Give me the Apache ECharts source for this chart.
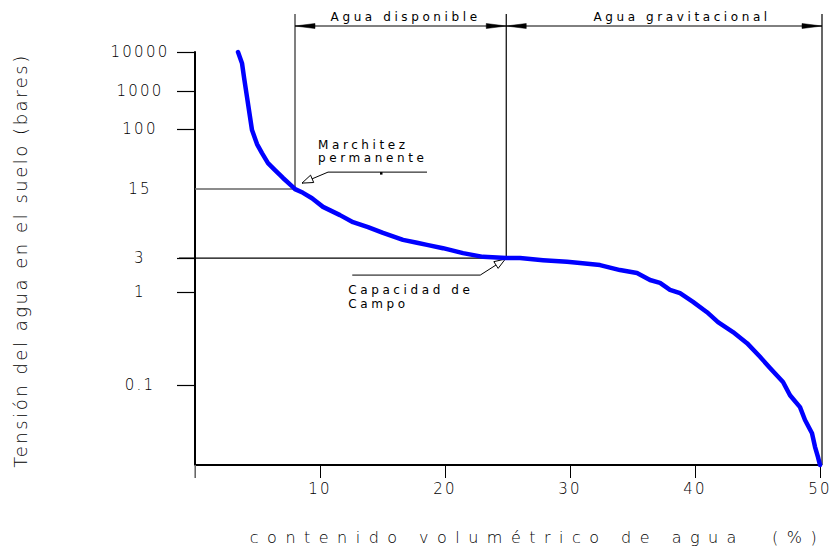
<!DOCTYPE html>
<html><head><meta charset="utf-8">
<script src="https://cdn.jsdelivr.net/npm/echarts@6/dist/echarts.min.js"></script>
<style>
html,body{margin:0;padding:0;background:#fff;}
#main{width:837px;height:547px;}
#main text{letter-spacing:0.3em;white-space:pre;}
#main text[style*="15px"]{letter-spacing:0.15em;}
#main text[style*="16px"]{letter-spacing:0.53em;}
#main text[style*="18px"]{letter-spacing:0.14em;}
</style></head><body><div id="main"></div>
<script>
// Y axis is a drawn (non-proportional) tension scale: positions 0..100 along the axis
const tickLabels    = ['10000', '1000', '100', '15', '3', '1', '0.1'];
const tickPositions = [100, 90.6, 81.3, 66.8, 50.1, 41.8, 19.4];
const tickMarks     = [100, 90.6, 81.3, 50.1, 41.8, 19.4];
const xTicks = [0, 10, 20, 30, 40, 50];

// Retention curve: water content (%) and position on the tension scale
const curveX   = [3.44,3.76,3.92,4.16,4.4,4.56,4.96,5.36,5.84,6.4,7.04,7.84,8.0,8.64,9.36,10.24,11.6,12.64,13.84,15.04,16.64,17.76,18.56,19.84,21.44,23.04,24.9,26.0,27.84,29.76,30.8,32.4,34.0,35.36,36.4,37.2,38.0,38.8,39.84,40.96,41.84,43.04,44.16,45.2,46.0,47.04,47.6,48.4,48.8,49.36,49.6,49.84,50.0];
const curvePos = [100,97.3,93.9,89.1,84.3,81.1,77.7,75.5,73.1,71.4,69.5,67.3,66.8,65.9,64.6,62.5,60.5,58.8,57.6,56.2,54.5,53.8,53.3,52.5,51.3,50.4,50.1,50.1,49.6,49.2,48.9,48.4,47.2,46.5,44.8,44.1,42.4,41.6,39.5,37.0,34.6,32.2,29.5,26.2,23.5,20.1,16.9,14.0,10.9,7.7,4.4,1.9,0];

// Key points
const pmpX = 8.0;   // punto de marchitez permanente (15 bares)
const ccX = 24.9;   // capacidad de campo (3)
const satX = 50;
const zoneNames = ['Agua disponible', 'Agua gravitacional'];
const pmpText = ['Marchitez', 'permanente'];
const ccText = ['Capacidad de', 'Campo'];
const xTitle = 'contenido volumétrico de agua  (%)';
const yTitle = 'Tensión del agua en el suelo (bares)';

const FONT = 'DejaVu Sans';
const chart = echarts.init(document.getElementById('main'), null, {renderer: 'svg'});
const curveData = curveX.map((x, i) => [x, curvePos[i]]);

const option = {
  animation: false,
  backgroundColor: '#fff',
  grid: {left: 195, right: 17, top: 52, bottom: 82, outerBoundsMode: 'none'},
  xAxis: {
    type: 'value', min: 0, max: 50, interval: 10,
    axisLine: {show: true, lineStyle: {color: '#000', width: 2}},
    axisTick: {show: true, length: 13, lineStyle: {color: '#000', width: 1}},
    axisLabel: {fontSize: 15, fontFamily: FONT, fontWeight: 200, color: '#000', margin: 16,
      formatter: v => (v === 0 ? '' : String(v))},
    splitLine: {show: false}
  },
  yAxis: {
    type: 'value', min: 0, max: 100,
    axisLine: {show: true, lineStyle: {color: '#000', width: 2}},
    axisTick: {show: true, length: 18, customValues: tickMarks, lineStyle: {color: '#000', width: 1.2}},
    axisLabel: {show: true, customValues: tickPositions, fontSize: 15, fontFamily: FONT, fontWeight: 200,
      color: '#000', margin: 55, align: 'center',
      formatter: v => { const i = tickPositions.indexOf(v); return i >= 0 ? tickLabels[i] : ''; }},
    splitLine: {show: false}
  },
  series: [{
    type: 'line', data: curveData, showSymbol: false, silent: true, clip: false, z: 5,
    lineStyle: {color: '#0000ff', width: 4.5, cap: 'round', join: 'round'}
  }]
};
chart.setOption(option);

const px = (x, y) => chart.convertToPixel({gridIndex: 0}, [x, y]);
const p0 = px(0, 0);
const pEnd = px(satX, 0);
const p15 = px(pmpX, tickPositions[3]);
const p3 = px(ccX, tickPositions[4]);
const topY = 14, dimY = 26;
const rightX = pEnd[0] + 2;

function line(x1, y1, x2, y2, color, w) {
  return {type: 'line', silent: true, z: 1, shape: {x1, y1, x2, y2}, style: {stroke: color, lineWidth: w}};
}
function poly(points, color, w) {
  return {type: 'polyline', silent: true, z: 1, shape: {points}, style: {stroke: color, lineWidth: w, fill: null}};
}
function dimArrow(x, y, dir) { // dir = -1 points left, +1 points right
  return {type: 'polygon', silent: true, z: 1,
    shape: {points: [[x, y], [x - dir * 20, y - 2.5], [x - dir * 20, y + 2.5]]},
    style: {fill: '#000', stroke: '#000', lineWidth: 0.5}};
}
function openArrow(tip, from) {
  const dx = tip[0] - from[0], dy = tip[1] - from[1];
  const L = Math.hypot(dx, dy), ux = dx / L, uy = dy / L;
  const bx = tip[0] - ux * 11, by = tip[1] - uy * 11;
  return {type: 'polygon', silent: true, z: 1,
    shape: {points: [tip, [bx - uy * 4, by + ux * 4], [bx + uy * 4, by - ux * 4]]},
    style: {fill: '#fff', stroke: '#000', lineWidth: 1}};
}
function text(str, x, y, size, align, weight, extra) {
  return Object.assign({type: 'text', silent: true, z: 3, x, y,
    style: {text: str, fontSize: size, fontFamily: FONT, fontWeight: weight, fill: '#000',
      textAlign: align, textVerticalAlign: 'middle'}}, extra || {});
}

const pmpTip = [p15[0] + 7, p15[1] - 6];
const pmpKnee = [p15[0] + 33, p15[1] - 17];
const ccTip = [p3[0] - 1, p3[1] + 1];
const ccKnee = [p3[0] - 26, p3[1] + 17];

const g = [
  // reference lines
  line(p0[0], p15[1], p15[0], p15[1], '#666', 1.5),
  line(p0[0] - 16, p3[1], p3[0], p3[1], '#000', 1.3),
  line(p15[0], topY, p15[0], p15[1], '#555', 1.5),
  line(p3[0], topY, p3[0], p3[1], '#000', 1.2),
  line(rightX, topY, rightX, pEnd[1], '#000', 1.2),
  line(p0[0], pEnd[1], p0[0], pEnd[1] + 13, '#888', 1.5),
  // dimension line
  line(p15[0], dimY, rightX, dimY, '#000', 1),
  dimArrow(p15[0], dimY, -1), dimArrow(p3[0], dimY, 1),
  dimArrow(p3[0], dimY, -1), dimArrow(rightX, dimY, 1),
  text(zoneNames[0], (p15[0] + p3[0]) / 2 + 5, 17, 12, 'center', 'normal'),
  text(zoneNames[1], (p3[0] + rightX) / 2 + 18, 17, 12, 'center', 'normal'),
  // marchitez leader
  poly([[p15[0] + 132, p15[1] - 17], pmpKnee, pmpTip], '#000', 1),
  openArrow(pmpTip, pmpKnee),
  {type: 'rect', silent: true, z: 1, shape: {x: p15[0] + 85, y: p15[1] - 17, width: 2.5, height: 2.5}, style: {fill: '#000'}},
  text(pmpText[0], p15[0] + 23, p15[1] - 44, 12, 'left', 'normal'),
  text(pmpText[1], p15[0] + 23, p15[1] - 31, 12, 'left', 'normal'),
  // capacidad leader
  poly([[p3[0] - 154, p3[1] + 17], ccKnee, ccTip], '#000', 1),
  openArrow(ccTip, ccKnee),
  text(ccText[0], p3[0] - 158, p3[1] + 32, 12, 'left', 'normal'),
  text(ccText[1], p3[0] - 158, p3[1] + 46, 12, 'left', 'normal'),
  // axis titles
  text(xTitle, (p0[0] + pEnd[0]) / 2 + 30, 537, 16, 'center', 200),
  text(yTitle, 20, (p0[1] + px(0, 100)[1]) / 2 + 2, 18, 'center', 200, {rotation: Math.PI / 2})
];
chart.setOption({graphic: {elements: g}});
</script>
</body></html>
